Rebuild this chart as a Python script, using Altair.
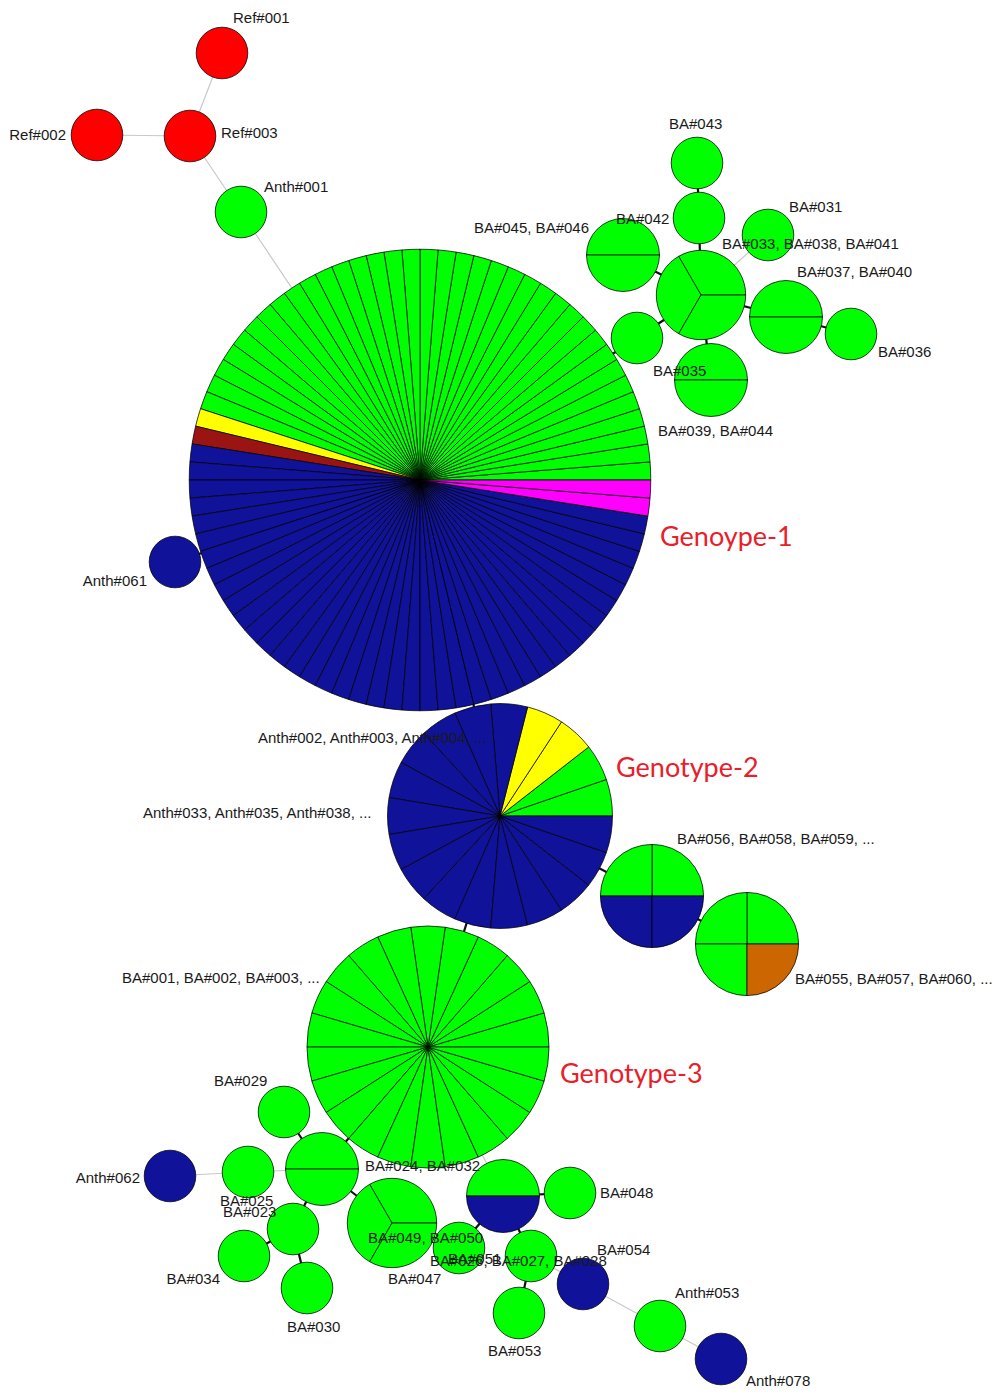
import math
import altair as alt
import pandas as pd

W, H = 995, 1392

# ---------------- data ----------------
# nodes of the haplotype network (layout coordinates) and their sample composition
node_id = ["Ref001", "Ref002", "Ref003", "Anth001", "G1", "Anth061",
           "BA043", "BA042", "BA045", "BA033", "BA031", "BA037", "BA036", "BA035", "BA039",
           "G2", "BA056", "BA055", "G3", "BA024", "BA029", "BA025", "Anth062", "BA023",
           "BA034", "BA030", "BA049", "GN", "BA048", "BA051", "BA026", "BA053", "BA054",
           "Anth053", "Anth078"]
node_x = [222, 97, 190, 241, 420, 175,
          697, 699, 623, 701, 768, 786, 851, 637, 711,
          500, 652, 747, 428, 322, 284, 248, 170, 293,
          244, 307, 392, 503, 570, 459, 531, 519, 583,
          660, 721]
node_y = [53, 135, 136, 212, 480, 562,
          163, 218, 255, 295, 235, 317, 334, 338, 380,
          816, 896, 944, 1047, 1169, 1112, 1172, 1176, 1229,
          1256, 1288, 1223, 1196, 1193, 1248, 1256, 1313, 1284,
          1326, 1359]
# composition: (group, number of samples), in pie order
node_comp = [
    [("red", 1)], [("red", 1)], [("red", 1)], [("green", 1)],
    [("green", 36), ("yellow", 1), ("darkred", 1), ("navy", 40), ("magenta", 2)],
    [("navy", 1)],
    [("green", 1)], [("green", 1)], [("green", 2)], [("green", 3)], [("green", 1)],
    [("green", 2)], [("green", 1)], [("green", 1)], [("green", 2)],
    [("green", 2), ("yellow", 2), ("navy", 15)],
    [("green", 2), ("navy", 2)],
    [("green", 3), ("orange", 1)],
    [("green", 22)],
    [("green", 2)], [("green", 1)], [("green", 1)], [("navy", 1)], [("green", 1)],
    [("green", 1)], [("green", 1)], [("green", 3)], [("green", 1), ("navy", 1)],
    [("green", 1)], [("green", 1)], [("green", 1)], [("green", 1)], [("navy", 1)],
    [("green", 1)], [("navy", 1)],
]

edge_src = ["Ref001", "Ref002", "Ref003", "Anth001", "G1", "G1", "G1", "BA035", "BA045",
            "BA042", "BA043", "BA031", "BA037", "BA036", "BA039", "G2", "BA056", "G2",
            "G3", "BA029", "BA025", "Anth062", "BA023", "BA034", "BA030", "BA049", "G3",
            "GN", "GN", "GN", "BA053", "BA054", "BA054", "Anth053"]
edge_dst = ["Ref003", "Ref003", "Anth001", "G1", "Anth061", "G2", "BA035", "BA033", "BA033",
            "BA033", "BA042", "BA033", "BA033", "BA037", "BA033", "BA056", "BA055", "G3",
            "BA024", "BA024", "BA024", "BA025", "BA024", "BA023", "BA023", "BA024", "GN",
            "BA048", "BA051", "BA026", "BA026", "BA026", "Anth053", "Anth078"]
edge_kind = ["far", "far", "far", "far", "near", "near", "near", "near", "near",
             "near", "near", "far", "near", "near", "near", "near", "near", "near",
             "near", "near", "far", "far", "near", "near", "near", "near", "far",
             "near", "near", "near", "near", "far", "far", "far"]

label_text = ["Ref#001", "Ref#002", "Ref#003", "Anth#001", "BA#043", "BA#042",
              "BA#045, BA#046", "BA#031", "BA#033, BA#038, BA#041", "BA#037, BA#040",
              "BA#036", "BA#035", "BA#039, BA#044", "Anth#061",
              "Anth#002, Anth#003, Anth#004, ...", "Anth#033, Anth#035, Anth#038, ...",
              "BA#056, BA#058, BA#059, ...", "BA#055, BA#057, BA#060, ...",
              "BA#001, BA#002, BA#003, ...", "BA#029", "Anth#062", "BA#025", "BA#023",
              "BA#024, BA#032", "BA#034", "BA#030", "BA#049, BA#050", "BA#047", "BA#048",
              "BA#026, BA#027, BA#028", "BA#051", "BA#053", "BA#054", "Anth#053", "Anth#078"]
label_x = [233, 66, 221, 264, 669, 616, 589, 789, 722, 797, 878, 653, 658, 147,
           258, 143, 677, 795, 122, 214, 140, 220, 223, 365, 220, 287, 368, 388, 600,
           430, 448, 488, 597, 675, 746]
label_y = [18, 135, 133, 187, 124, 219, 228, 207, 244, 272, 352, 371, 431, 581,
           738, 813, 839, 979, 978, 1081, 1178, 1201, 1212, 1166, 1279, 1327, 1238,
           1279, 1193, 1261, 1259, 1351, 1250, 1293, 1381]
label_align = ["left", "right", "left", "left", "left", "left", "right", "left", "left",
               "left", "left", "left", "left", "right", "left", "left", "left", "left",
               "left", "left", "right", "left", "left", "left", "right", "left", "left",
               "left", "left", "left", "left", "left", "left", "left", "left"]

geno_text = ["Genoype-1", "Genotype-2", "Genotype-3"]
geno_x = [660, 616, 560]
geno_y = [538, 769, 1075]

group_names = ["red", "green", "yellow", "darkred", "navy", "magenta", "orange"]
group_colors = ["#FF0000", "#00FF00", "#FFFF00", "#9B1414", "#10129A", "#FF00FF", "#CC6600"]

# ---------------- tables ----------------
pos = {n: (x, y) for n, x, y in zip(node_id, node_x, node_y)}

rows = []
for nid, comp in zip(node_id, node_comp):
    total = sum(c for _, c in comp)
    k = 0
    for grp, c in comp:
        for _ in range(c):
            a1 = 2 * math.pi * k / total
            a2 = 2 * math.pi * (k + 1) / total
            rows.append({"node": nid, "x": pos[nid][0], "y": pos[nid][1], "n": total,
                         "group": grp,
                         "t0": 2.5 * math.pi - a2, "t1": 2.5 * math.pi - a1})
            k += 1
slices = pd.DataFrame(rows)

edges = pd.DataFrame({
    "x1": [pos[s][0] for s in edge_src], "y1": [pos[s][1] for s in edge_src],
    "x2": [pos[d][0] for d in edge_dst], "y2": [pos[d][1] for d in edge_dst],
    "kind": edge_kind,
})
labels = pd.DataFrame({"text": label_text, "x": label_x, "y": label_y, "align": label_align})
genos = pd.DataFrame({"text": geno_text, "x": geno_x, "y": geno_y})

xs = alt.Scale(domain=[0, W], range=[0, W])
ys = alt.Scale(domain=[0, H], range=[0, H])


def edge_layer(kind, color, width):
    return alt.Chart(edges).transform_filter(alt.datum.kind == kind).mark_rule(
        color=color, strokeWidth=width
    ).encode(
        x=alt.X("x1:Q", scale=xs, axis=None),
        y=alt.Y("y1:Q", scale=ys, axis=None),
        x2="x2:Q", y2="y2:Q",
    )


node_layer = alt.Chart(slices).mark_arc(stroke="#000000", strokeWidth=0.75).encode(
    x=alt.X("x:Q", scale=xs, axis=None),
    y=alt.Y("y:Q", scale=ys, axis=None),
    theta=alt.Theta("t0:Q", scale=None, stack=False),
    theta2="t1:Q",
    radius=alt.Radius("n:Q", scale=alt.Scale(type="sqrt", domain=[0, 1], range=[0, 25.8])),
    color=alt.Color("group:N", scale=alt.Scale(domain=group_names, range=group_colors), legend=None),
)


def text_layer(align):
    return alt.Chart(labels).transform_filter(alt.datum.align == align).mark_text(
        align=align, baseline="middle", font="Liberation Sans", fontSize=15, color="#1a1a1a"
    ).encode(
        x=alt.X("x:Q", scale=xs, axis=None),
        y=alt.Y("y:Q", scale=ys, axis=None),
        text="text:N",
    )


geno_layer = alt.Chart(genos).mark_text(
    align="left", baseline="middle", font="Lato", fontSize=27, color="#E8202A"
).encode(
    x=alt.X("x:Q", scale=xs, axis=None),
    y=alt.Y("y:Q", scale=ys, axis=None),
    text="text:N",
)

chart = alt.layer(
    edge_layer("far", "#C8C8C8", 1.2),
    edge_layer("near", "#111111", 2.2),
    node_layer, text_layer("left"), text_layer("right"), geno_layer
).properties(
    width=W, height=H, padding=0, autosize="none", background="white"
).configure_view(stroke=None)

chart.save("out.html", embed_options={"renderer": "svg", "actions": False})
